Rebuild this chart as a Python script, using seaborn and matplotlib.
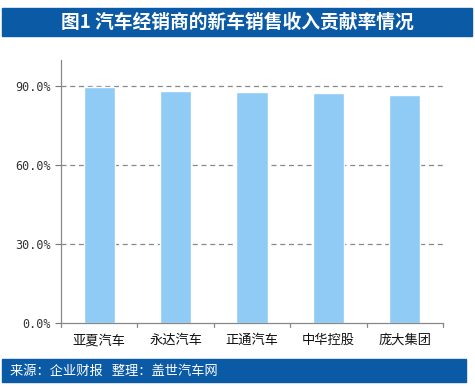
import seaborn as sns
import matplotlib.pyplot as plt
import pandas as pd
from matplotlib.patches import Rectangle

companies = ['亚夏汽车', '永达汽车', '正通汽车', '中华控股', '庞大集团']
ratio = [89.7, 88.1, 87.7, 87.3, 86.6]
yticks = [0, 30, 60, 90]
ytick_labels = ['0.0%', '30.0%', '60.0%', '90.0%']

sns.set_style('white')
plt.rcParams['font.family'] = ['Noto Sans CJK SC', 'DejaVu Sans']

df = pd.DataFrame({'company': companies, 'ratio': ratio})

fig = plt.figure(figsize=(4.75, 3.87), dpi=100)
ax = fig.add_axes([61 / 475, 1 - 323 / 387, 382 / 475, 263 / 387])

sns.barplot(x='company', y='ratio', data=df, color='#8fcbf5', saturation=1,
            width=0.41, ax=ax)

ax.set_ylim(0, 100)
ax.set_xlim(-0.5, 4.5)
ax.set_yticks(yticks)
ax.set_yticklabels(ytick_labels, fontsize=8.5, family='DejaVu Sans Mono', color='#333333')
ax.tick_params(axis='x', length=0, labelsize=9.5, pad=8, colors='#111111')
ax.tick_params(axis='y', length=4, direction='out', left=True, width=0.8, color='#777777')
ax.set_xlabel('')
ax.set_ylabel('')
for y in yticks[1:]:
    ax.axhline(y, color='#888888', lw=0.9, ls=(0, (4, 3)), zorder=0)

for s in ['top', 'right']:
    ax.spines[s].set_visible(False)
for s in ['left', 'bottom']:
    ax.spines[s].set_color('#888888')
    ax.spines[s].set_linewidth(0.9)

# category boundary ticks on the x axis
for b in [-0.5, 0.5, 1.5, 2.5, 3.5, 4.5]:
    ax.plot([b, b], [0, -1.5], color='#888888', lw=0.9, clip_on=False)

# title banner
fig.patches.append(Rectangle((2 / 475, 1 - 36 / 387), 470 / 475, 28 / 387,
                             transform=fig.transFigure, color='#0b5aa6', zorder=0))
fig.text(0.5, 1 - 22 / 387, '图1 汽车经销商的新车销售收入贡献率情况', ha='center', va='center',
         color='white', fontsize=13.5, fontweight='bold')

# footer banner
fig.patches.append(Rectangle((2 / 475, 1 - 382 / 387), 464 / 475, 23 / 387,
                             transform=fig.transFigure, color='#0b5aa6', zorder=0))
fig.text(10 / 475, 1 - 371 / 387, '来源：企业财报   整理：盖世汽车网', ha='left', va='center',
         color='white', fontsize=9.5, style='italic')

plt.savefig('out.png', dpi=100)
